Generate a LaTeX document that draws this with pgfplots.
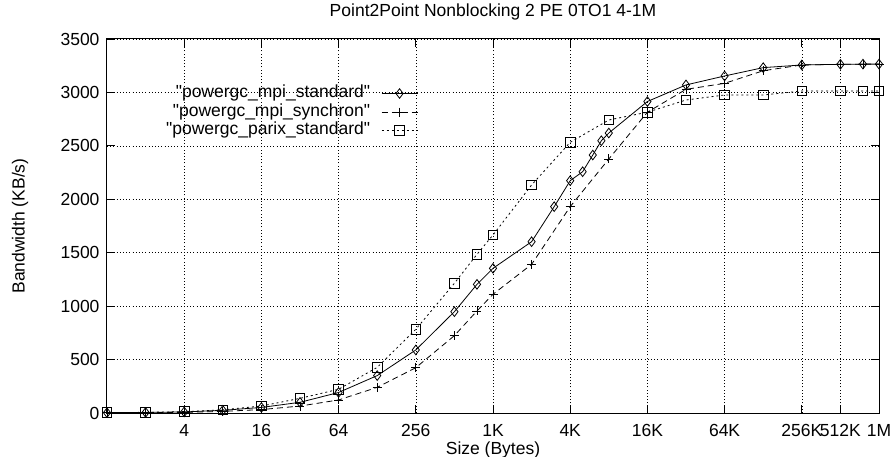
\documentclass[border=0pt]{standalone}
\usepackage{fontspec}
\setmainfont{Liberation Sans}
% plain family without TeX ligatures, so that " stays a straight quote
\newfontfamily\plainsans{Liberation Sans}
\usepackage{pgfplots}
\pgfplotsset{compat=1.18}

\newcommand\chartfont{\plainsans\fontsize{17.5bp}{21bp}\selectfont}

\begin{document}
\begin{tikzpicture}[font=\chartfont]
\begin{axis}[
  scale only axis,
  width=772bp, height=374bp,
  xmode=log, log basis x=2,
  xmin=1, xmax=1048576,
  ymin=0, ymax=3500,
  ytick={0,500,...,3500},
  xtick={4,16,64,256,1024,4096,16384,65536,262144,524288,1048576},
  xticklabels={4,16,64,256,1K,4K,16K,64K,256K,512K,1M},
  minor x tick num=0,
  scaled y ticks=false,
  /pgf/number format/1000 sep={},
  /pgf/number format/assume math mode=true,
  tick label style={font=\chartfont},
  xticklabel style={yshift=-8bp},
  yticklabel style={xshift=-4bp},
  tick align=inside,
  major tick length=8bp,
  axis line style={line width=1bp},
  every tick/.style={black, line width=0.8bp},
  grid=major,
  grid style={black, line width=0.6bp, dash pattern=on 1bp off 2.2bp},
  title={Point2Point Nonblocking 2 PE 0TO1 4-1M},
  title style={font=\chartfont, at={(0.5,1)}, anchor=base, yshift=17bp},
  xlabel={Size (Bytes)},
  xlabel style={font=\chartfont, at={(axis description cs:0.5,-0.0989)}, anchor=center},
  ylabel={Bandwidth (KB/s)},
  ylabel style={font=\chartfont, at={(axis description cs:-0.1127,0.5)}, anchor=center},
  legend plot pos=right,
  legend cell align=right,
  legend image code/.code={%
    \draw[mark repeat=2,mark phase=2] plot coordinates {(0bp,0bp) (18bp,0bp) (36bp,0bp)};},
  legend style={
    font=\chartfont,
    at={(0.4028,0.8048)}, anchor=east,
    draw=none, fill=none, inner sep=0pt, outer sep=0pt,
    row sep=0pt, column sep=10bp,
    nodes={inner sep=1bp, text height=12.5bp, text depth=4bp},
  },
  every axis plot/.append style={black, line width=0.8bp},
  mark options={solid, line width=0.8bp, fill=none},
]

% message sizes in bytes against bandwidth in KB/s
\addplot[solid, mark=diamond, mark size=4.8bp] table {
x y
1 3
2 5
4 10
8 25
16 52
32 100
64 192
128 350
256 590
512 948
768 1204
1024 1354
2048 1603
3072 1931
4096 2174
5120 2258
6144 2414
7168 2548
8192 2620
16384 2915
32768 3070
65536 3154
131072 3232
262144 3257
524288 3263
786432 3265
1048576 3265
};
\addlegendentry{"powergc\_mpi\_standard"}

\addplot[dash pattern=on 6bp off 4bp, mark=+, mark size=4.5bp] table {
x y
1 2
2 3
4 6
8 15
16 32
32 65
64 122
128 240
256 424
512 724
768 955
1024 1111
2048 1391
4096 1931
8192 2377
16384 2815
32768 3029
65536 3085
131072 3203
262144 3257
524288 3263
786432 3265
1048576 3265
};
\addlegendentry{"powergc\_mpi\_synchron"}

\addplot[dash pattern=on 2bp off 3bp, mark=square, mark size=4.8bp] table {
x y
1 4
2 6
4 13
8 30
16 65
32 137
64 222
128 427
256 783
512 1214
768 1485
1024 1666
2048 2134
4096 2533
8192 2742
16384 2815
32768 2929
65536 2976
131072 2976
262144 3013
524288 3013
786432 3013
1048576 3013
};
\addlegendentry{"powergc\_parix\_standard"}

\end{axis}
\pgfresetboundingbox
\path (current axis.south west) ++(-107bp,-44bp) rectangle ++(896bp,457bp);
\end{tikzpicture}
\end{document}
